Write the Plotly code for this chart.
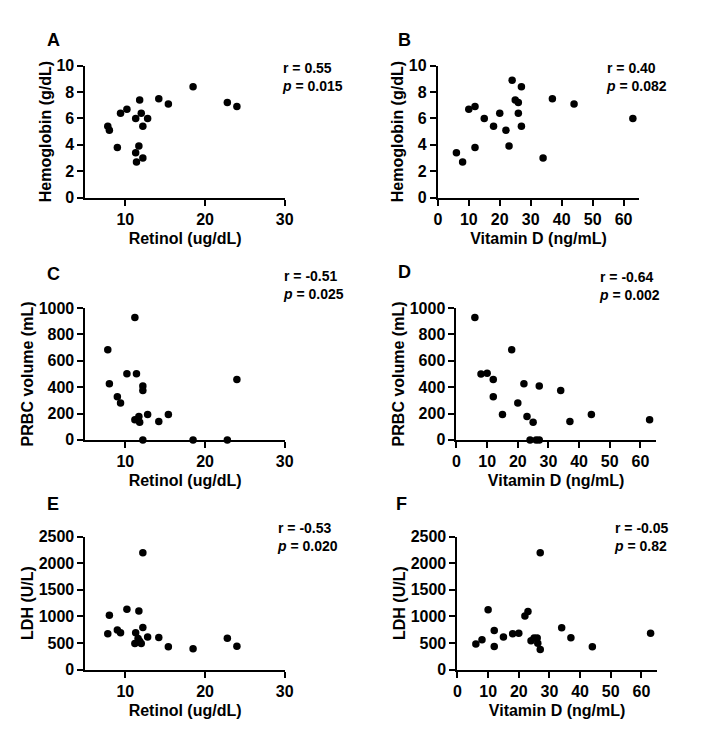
import plotly.graph_objects as go

# ---- data ----
retinol_hb = [7.8, 8.0, 9.0, 9.4, 10.2, 11.3, 11.8, 12.0, 12.2, 12.8, 11.7, 11.3, 11.4, 12.2, 14.2, 15.4, 18.5, 22.8, 24.0]
hb_vs_retinol = [5.4, 5.1, 3.8, 6.4, 6.7, 6.0, 7.4, 6.4, 5.4, 6.0, 3.9, 3.4, 2.7, 3.0, 7.5, 7.1, 8.4, 7.2, 6.9]

vitd_hb = [6, 8, 10, 12, 12, 15, 18, 20, 22, 23, 24, 25, 26, 26, 27, 27, 34, 37, 44, 63]
hb_vs_vitd = [3.4, 2.7, 6.7, 6.9, 3.8, 6.0, 5.4, 6.4, 5.1, 3.9, 8.9, 7.4, 7.2, 6.4, 8.4, 5.4, 3.0, 7.5, 7.1, 6.0]

retinol_prbc = [7.8, 8.0, 9.0, 9.4, 10.2, 11.2, 11.4, 11.2, 11.7, 11.8, 12.2, 12.2, 12.2, 12.8, 14.2, 15.4, 18.5, 22.8, 24.0]
prbc_vs_retinol = [683, 426, 327, 280, 502, 928, 502, 153, 178, 134, 408, 374, 0, 193, 139, 193, 0, 0, 458]

vitd_prbc = [6, 8, 10, 12, 12, 15, 18, 20, 22, 23, 25, 24, 26, 27, 27, 34, 37, 44, 63]
prbc_vs_vitd = [928, 500, 505, 458, 327, 193, 683, 280, 426, 178, 134, 0, 0, 0, 408, 374, 139, 193, 153]

retinol_ldh = [7.8, 8.0, 9.0, 9.4, 10.2, 11.3, 11.7, 12.2, 12.2, 12.8, 11.2, 11.6, 11.8, 12.0, 14.2, 15.4, 18.5, 22.8, 24.0]
ldh_vs_retinol = [675, 1021, 743, 693, 1132, 693, 1101, 792, 2197, 613, 489, 582, 532, 489, 600, 427, 390, 588, 439]

vitd_ldh = [6, 8, 10, 12, 12, 15, 18, 20, 22, 23, 24, 25, 26, 26.2, 27, 27, 34, 37, 44, 63]
ldh_vs_vitd = [482, 561, 1122, 732, 433, 610, 671, 683, 1006, 1091, 543, 591, 591, 494, 378, 2195, 787, 598, 427, 683]

panel_letters = ["A", "B", "C", "D", "E", "F"]
stats_r = ["0.55", "0.40", "-0.51", "-0.64", "-0.53", "-0.05"]
stats_p = ["0.015", "0.082", "0.025", "0.002", "0.020", "0.82"]
x_titles = ["Retinol (ug/dL)", "Vitamin D (ng/mL)"] * 3
y_titles = ["Hemoglobin (g/dL)"] * 2 + ["PRBC volume (mL)"] * 2 + ["LDH (U/L)"] * 2

xs = [retinol_hb, vitd_hb, retinol_prbc, vitd_prbc, retinol_ldh, vitd_ldh]
ys = [hb_vs_retinol, hb_vs_vitd, prbc_vs_retinol, prbc_vs_vitd, ldh_vs_retinol, ldh_vs_vitd]

W, H = 704, 743
FONT = "Liberation Sans, Arial, sans-serif"


def px(v):
    return v / W


def py(v):
    return 1 - v / H


# panel geometry in page pixels: (x0, x1, ytop, ybottom)
geom = [
    (83, 286, 59, 194),
    (442, 647, 59, 194),
    (83, 286, 307, 442),
    (461, 664, 307, 442),
    (83, 286, 541, 677),
    (462, 665, 541, 677),
]
x_ranges = [[5, 30], [0, 65]] * 3
x_ticks = [[10, 20, 30], [0, 10, 20, 30, 40, 50, 60]] * 3
y_ranges = [[0, 10], [0, 10], [0, 1000], [0, 1000], [0, 2500], [0, 2500]]
y_dticks = [2, 2, 200, 200, 500, 500]

letter_pos = [(42, 33), (399, 33), (42, 272), (399, 270), (42, 508), (397, 508)]
stat_pos = [(281, 71), (611, 71), (282, 283), (604, 284), (276, 541), (619, 541)]

fig = go.Figure()
layout = dict(
    width=W, height=H,
    margin=dict(l=0, r=0, t=0, b=0),
    paper_bgcolor="white", plot_bgcolor="white",
    showlegend=False,
    font=dict(family=FONT, color="black", size=16, weight="bold"),
)
annotations = []

for i in range(6):
    n = "" if i == 0 else str(i + 1)
    x0, x1, yt, yb = geom[i]
    fig.add_trace(go.Scatter(
        x=xs[i], y=ys[i], mode="markers",
        marker=dict(color="black", size=7.5, line=dict(width=0)),
        xaxis="x" + n, yaxis="y" + n, cliponaxis=False, hoverinfo="x+y",
    ))
    axcommon = dict(
        showgrid=False, zeroline=False, showline=True, linecolor="black", linewidth=2,
        ticks="outside", ticklen=6, tickwidth=2, tickcolor="black",
        tickfont=dict(family=FONT, size=16, color="black", weight="bold"),
        fixedrange=True,
    )
    layout["xaxis" + n] = dict(
        axcommon, domain=[px(x0), px(x1)], range=x_ranges[i],
        tickmode="array", tickvals=x_ticks[i],
        anchor="y" + n,
        title=dict(text=x_titles[i], font=dict(family=FONT, size=16, weight="bold"), standoff=6),
    )
    layout["yaxis" + n] = dict(
        axcommon, domain=[py(yb), py(yt)], range=y_ranges[i],
        dtick=y_dticks[i], tick0=0,
        anchor="x" + n,
        title=dict(text=y_titles[i], font=dict(family=FONT, size=16, weight="bold"), standoff=1),
    )
    lx, ly = letter_pos[i]
    annotations.append(dict(
        text=panel_letters[i], xref="paper", yref="paper",
        x=px(lx), y=py(ly), xanchor="left", yanchor="middle", showarrow=False,
        font=dict(family=FONT, size=18, weight="bold", color="black"),
    ))
    sx, sy = stat_pos[i]
    annotations.append(dict(
        text="r = " + stats_r[i] + "<br><i>p</i> = " + stats_p[i],
        xref="paper", yref="paper", x=px(sx), y=py(sy),
        xanchor="left", yanchor="middle", align="left", showarrow=False,
        font=dict(family=FONT, size=14, weight="bold", color="black"),
    ))

layout["annotations"] = annotations
fig.update_layout(**layout)
# remove the default page margin so the figure fills the window exactly
fig.write_html(
    "out.html",
    config={"displayModeBar": False},
    post_script="document.body.style.margin='0';document.body.style.overflow='hidden';",
)
